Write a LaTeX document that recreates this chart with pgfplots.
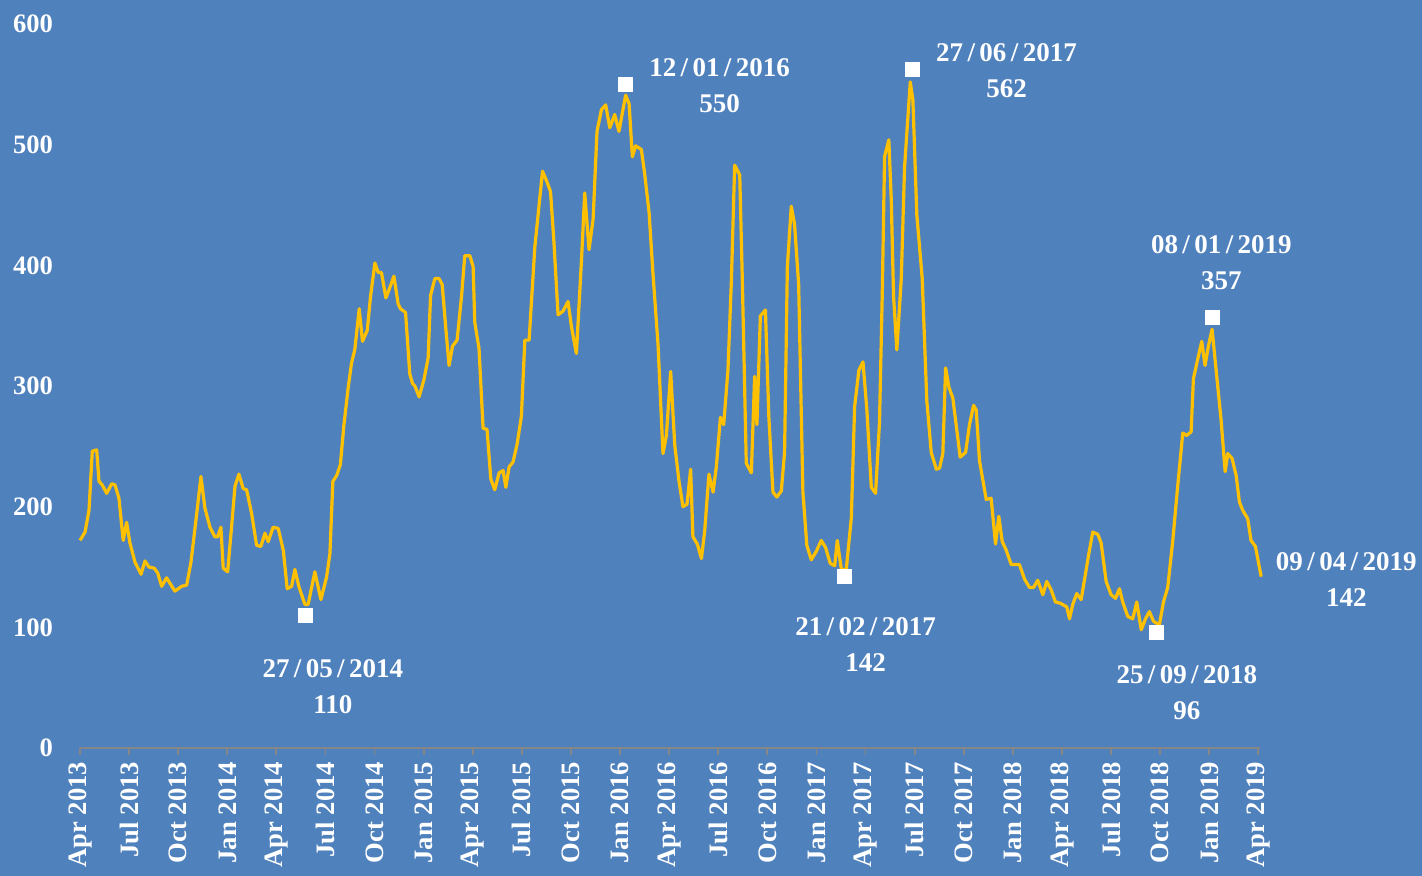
\documentclass[border=0pt]{standalone}
\usepackage{fontspec}
\setmainfont{Liberation Serif}
\usepackage{pgfplots}
\usepackage{pgfplotstable}
\pgfplotsset{compat=1.18}
\definecolor{bg}{RGB}{79,129,189}
\definecolor{ln}{RGB}{255,192,0}
\definecolor{axc}{RGB}{134,134,134}

\pgfplotstableread{
x y
0.00 172
0.31 179
0.55 197
0.75 246
1.02 247
1.16 221
1.36 218
1.63 211
1.94 219
2.14 218
2.38 207
2.64 172
2.85 187
3.05 170
3.36 154
3.73 144
3.97 155
4.21 150
4.54 149
4.75 145
4.99 134
5.29 141
5.80 130
6.21 134
6.52 135
6.78 154
7.13 194
7.39 225
7.63 199
7.94 183
8.24 175
8.41 175
8.61 183
8.75 149
9.02 146
9.26 183
9.47 217
9.71 227
9.97 215
10.18 214
10.49 194
10.79 168
11.05 167
11.30 178
11.50 171
11.80 183
12.11 182
12.42 164
12.66 132
12.93 134
13.13 148
13.37 134
13.74 119
13.94 119
14.35 146
14.72 123
15.07 142
15.27 161
15.45 221
15.69 226
15.91 235
16.12 267
16.39 299
16.59 319
16.79 330
17.06 364
17.26 337
17.55 346
17.75 374
18.02 402
18.22 394
18.42 394
18.69 373
18.89 380
19.18 391
19.44 368
19.58 364
19.89 361
20.15 310
20.32 302
20.46 300
20.72 291
21.01 305
21.27 323
21.42 375
21.68 389
21.94 389
22.13 384
22.35 348
22.55 317
22.76 333
23.04 338
23.31 374
23.51 408
23.82 408
24.02 399
24.12 353
24.38 331
24.63 265
24.87 264
25.10 223
25.34 214
25.61 228
25.85 230
26.02 216
26.22 233
26.46 237
26.71 252
26.97 275
27.18 338
27.44 338
27.79 415
28.26 478
28.54 469
28.75 461
28.95 421
29.21 359
29.51 362
29.82 370
30.03 349
30.33 327
30.64 404
30.84 460
31.10 413
31.35 438
31.59 511
31.86 529
32.12 533
32.37 514
32.67 525
32.93 511
33.34 541
33.55 534
33.75 490
33.95 499
34.30 496
34.50 476
34.77 444
35.01 393
35.32 334
35.62 244
35.83 259
36.09 312
36.34 251
36.60 221
36.84 200
37.09 202
37.31 231
37.45 175
37.72 169
37.97 157
38.17 180
38.43 227
38.68 212
38.88 233
39.13 274
39.33 268
39.59 313
39.80 387
40.00 483
40.31 475
40.47 387
40.71 236
41.02 228
41.22 308
41.36 268
41.57 358
41.88 363
42.09 274
42.34 212
42.58 208
42.85 213
43.05 245
43.22 399
43.46 449
43.66 434
43.91 384
44.17 212
44.41 168
44.68 156
44.99 163
45.29 172
45.56 166
45.84 153
46.11 151
46.27 172
46.52 148
46.82 148
47.13 191
47.33 283
47.59 313
47.84 320
48.08 280
48.35 216
48.61 211
48.85 270
49.02 377
49.16 490
49.42 504
49.57 454
49.71 374
49.91 330
50.18 389
50.38 481
50.73 552
50.89 537
51.13 442
51.46 389
51.74 288
52.01 245
52.32 231
52.52 232
52.72 244
52.89 315
53.09 299
53.33 290
53.78 241
54.11 245
54.35 268
54.60 284
54.76 280
54.96 238
55.37 206
55.67 207
55.94 169
56.14 192
56.35 171
56.59 164
56.90 152
57.40 152
57.71 140
58.02 133
58.26 133
58.52 139
58.83 127
59.07 138
59.34 131
59.60 121
59.89 120
60.15 118
60.29 117
60.46 107
60.66 119
60.90 128
61.17 123
61.37 139
61.64 161
61.88 179
62.19 177
62.39 170
62.70 138
63.00 127
63.27 124
63.51 132
63.71 121
64.02 109
64.32 107
64.57 121
64.84 98
65.10 107
65.34 113
65.59 105
65.95 102
66.20 121
66.46 133
66.77 172
67.07 217
67.38 261
67.62 259
67.89 262
68.03 306
68.29 322
68.54 337
68.74 317
68.96 334
69.17 347
69.42 313
69.72 272
69.97 229
70.13 244
70.39 240
70.64 226
70.84 204
71.04 197
71.35 190
71.55 172
71.82 167
72.17 142
}\pricedata

\pgfplotstableread{
x y
13.80 110
33.35 550
46.71 142
50.83 562
65.78 96
69.17 357
}\extremes

\newcommand{\lblfont}{\bfseries\fontsize{13.5}{18}\selectfont}
\newcommand{\dsl}{\kern2.2pt/\kern2.2pt}

\begin{document}
\begin{tikzpicture}
\useasboundingbox (-40pt,-64pt) rectangle (671pt,374pt);
\fill[bg] (-40pt,-64pt) rectangle (671pt,374pt);
\begin{axis}[
  at={(0pt,0pt)}, anchor=south west,
  scale only axis, width=590pt, height=362pt,
  xmin=0, xmax=72.1, ymin=0, ymax=600,
  axis x line*=bottom, axis y line*=left,
  x axis line style={draw=axc, line width=0.9pt},
  y axis line style={draw=none},
  ytick style={draw=none},
  xtick style={draw=axc, line width=0.9pt},
  tick align=outside, major tick length=3.5pt,
  xtick={0,3,...,72},
  xticklabels={Apr 2013,Jul 2013,Oct 2013,Jan 2014,Apr 2014,Jul 2014,Oct 2014,Jan 2015,Apr 2015,Jul 2015,Oct 2015,Jan 2016,Apr 2016,Jul 2016,Oct 2016,Jan 2017,Apr 2017,Jul 2017,Oct 2017,Jan 2018,Apr 2018,Jul 2018,Oct 2018,Jan 2019,Apr 2019},
  x tick label style={rotate=90, anchor=east, text=white, font=\bfseries\fontsize{13.3}{15}\selectfont},
  ytick={0,100,...,600},
  y tick label style={text=white, xshift=-6.5pt, font=\bfseries\fontsize{13.3}{15}\selectfont},
  /pgf/number format/assume math mode=true,
  clip=false,
]
\addplot[ln, line width=1.6pt, line join=round] table[x=x,y=y] {\pricedata};
\addplot[only marks, mark=square*, mark size=3.5pt, mark options={fill=white, draw=white}] table[x=x,y=y] {\extremes};
\node[align=center, text=white, font=\lblfont] at (axis cs:15.45,50.6) {27\dsl05\dsl2014\\110};
\node[align=center, text=white, font=\lblfont] at (axis cs:39.08,549) {12\dsl01\dsl2016\\550};
\node[align=center, text=white, font=\lblfont] at (axis cs:48.0,85.4) {21\dsl02\dsl2017\\142};
\node[align=center, text=white, font=\lblfont] at (axis cs:56.61,561) {27\dsl06\dsl2017\\562};
\node[align=center, text=white, font=\lblfont] at (axis cs:69.74,402.3) {08\dsl01\dsl2019\\357};
\node[align=center, text=white, font=\lblfont] at (axis cs:67.63,45.6) {25\dsl09\dsl2018\\96};
\node[align=center, text=white, font=\lblfont] at (axis cs:77.37,140) {09\dsl04\dsl2019\\142};
\end{axis}
\end{tikzpicture}
\end{document}
